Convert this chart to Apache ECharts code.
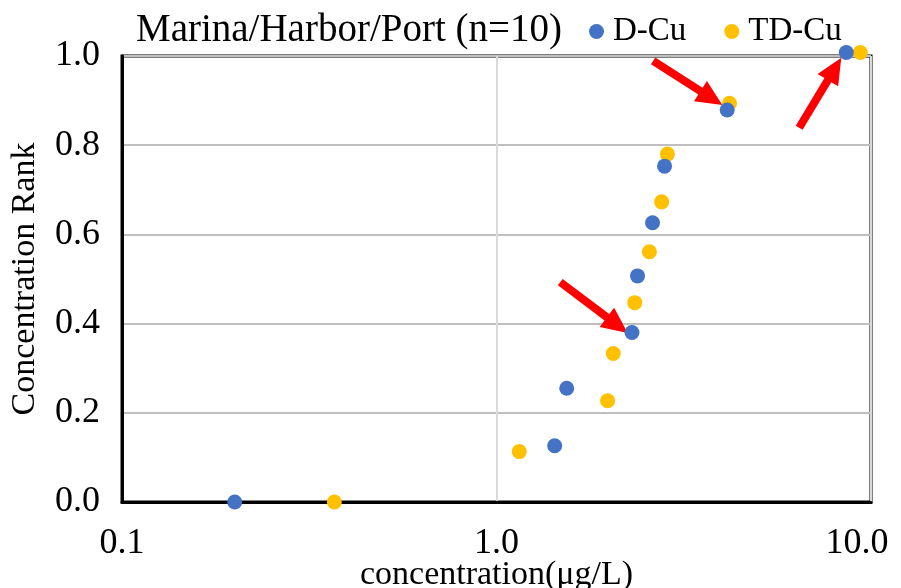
<!DOCTYPE html>
<html>
<head>
<meta charset="utf-8">
<script src="https://cdn.jsdelivr.net/npm/echarts@6/dist/echarts.min.js"></script>
<style>
html,body{margin:0;padding:0;background:#fff;}
#chart{width:901px;height:588px;}
</style>
</head>
<body>
<div id="chart"></div>
<script>
// Data
const titleText = 'Marina/Harbor/Port (n=10)';
const seriesNames = ['D-Cu', 'TD-Cu'];
const dCuConc = [0.20, 1.43, 1.54, 2.30, 2.38, 2.61, 2.81, 4.13, 8.59];
const dCuRank = [0.000, 0.126, 0.255, 0.380, 0.507, 0.626, 0.753, 0.879, 1.008];
const tdCuConc = [0.369, 1.15, 1.98, 2.05, 2.34, 2.56, 2.76, 2.86, 4.19, 9.36];
const tdCuRank = [0.000, 0.113, 0.227, 0.333, 0.447, 0.561, 0.673, 0.780, 0.894, 1.008];
const xTickValues = [0.1, 1, 10];
const xTickLabels = ['0.1', '1.0', '10.0'];
// Arrow annotations in data coordinates: [tailX, tailY, tipX, tipY]
const arrows = [
  [2.62, 0.989, 4.01, 0.890],
  [6.43, 0.839, 8.33, 0.996],
  [1.48, 0.493, 2.24, 0.379]
];

const FONT = '"Liberation Serif", "Times New Roman", serif';
const colors = ['#4472C4', '#FFC000'];

const chart = echarts.init(document.getElementById('chart'), null, {renderer: 'canvas'});

function xLabel(v) {
  for (let i = 0; i < xTickValues.length; i++) {
    if (Math.abs(v - xTickValues[i]) < 1e-9 * xTickValues[i] + 1e-12) {
      return i === xTickValues.length - 1 ? '{last|' + xTickLabels[i] + '}' : xTickLabels[i];
    }
  }
  return '';
}

const option = {
  animation: false,
  backgroundColor: '#ffffff',
  title: {
    text: titleText,
    left: 131,
    top: 6,
    textStyle: {fontFamily: FONT, fontSize: 39, fontWeight: 'normal', color: '#000'}
  },
  legend: {
    data: seriesNames,
    left: 584,
    top: 10,
    icon: 'circle',
    itemWidth: 15,
    itemHeight: 15,
    itemGap: 38,
    textStyle: {fontFamily: FONT, fontSize: 33, color: '#000', padding: [0, 0, 0, 4]}
  },
  grid: {
    left: 122,
    right: 30,
    top: 56,
    bottom: 86,
    show: true,
    borderColor: '#000',
    borderWidth: 3,
    containLabel: false,
    outerBoundsMode: 'none'
  },
  xAxis: {
    type: 'log',
    logBase: 10,
    min: 0.1,
    max: 10,
    name: 'concentration(μg/L)',
    nameLocation: 'middle',
    nameGap: 56,
    nameMoveOverlap: false,
    nameTextStyle: {fontFamily: FONT, fontSize: 34, color: '#000'},
    axisLine: {show: true, lineStyle: {color: '#000', width: 3}},
    axisTick: {show: false},
    minorTick: {show: false},
    splitLine: {show: true, lineStyle: {color: '#d9d9d9', width: 2}},
    axisLabel: {
      fontFamily: FONT, fontSize: 36, color: '#000', margin: 24,
      formatter: xLabel,
      rich: {
        last: {fontFamily: FONT, fontSize: 36, color: '#000', padding: [0, 28, 0, 0]}
      }
    }
  },
  yAxis: {
    type: 'value',
    min: 0,
    max: 1,
    interval: 0.2,
    name: 'Concentration Rank',
    nameLocation: 'middle',
    nameGap: 80,
    nameMoveOverlap: false,
    nameTextStyle: {fontFamily: FONT, fontSize: 34, color: '#000'},
    axisLine: {show: true, lineStyle: {color: '#000', width: 3}},
    axisTick: {show: false},
    splitLine: {show: true, lineStyle: {color: '#bfbfbf', width: 2}},
    axisLabel: {
      fontFamily: FONT, fontSize: 36, color: '#000', margin: 22,
      formatter: function (v) { return v.toFixed(1); }
    }
  },
  series: [
    {
      name: seriesNames[0],
      type: 'scatter',
      symbol: 'circle',
      symbolSize: 15,
      clip: false,
      z: 3,
      itemStyle: {color: colors[0], opacity: 1},
      data: dCuConc.map((x, i) => [x, dCuRank[i]])
    },
    {
      name: seriesNames[1],
      type: 'scatter',
      symbol: 'circle',
      symbolSize: 15,
      clip: false,
      z: 2,
      itemStyle: {color: colors[1], opacity: 1},
      data: tdCuConc.map((x, i) => [x, tdCuRank[i]])
    }
  ]
};
chart.setOption(option);

function arrowPolygon(p0, p1) {
  const dx = p1[0] - p0[0], dy = p1[1] - p0[1];
  const len = Math.sqrt(dx*dx + dy*dy);
  const ux = dx/len, uy = dy/len;
  const px = -uy, py = ux;
  const headLen = 26, headHalf = 12, shaftHalf = 4;
  const bx = p1[0] - ux*headLen, by = p1[1] - uy*headLen;
  return [
    [p0[0] + px*shaftHalf, p0[1] + py*shaftHalf],
    [bx + px*shaftHalf, by + py*shaftHalf],
    [bx + px*headHalf, by + py*headHalf],
    [p1[0], p1[1]],
    [bx - px*headHalf, by - py*headHalf],
    [bx - px*shaftHalf, by - py*shaftHalf],
    [p0[0] - px*shaftHalf, p0[1] - py*shaftHalf]
  ];
}

const graphics = arrows.map(a => {
  const p0 = chart.convertToPixel({gridIndex: 0}, [a[0], a[1]]);
  const p1 = chart.convertToPixel({gridIndex: 0}, [a[2], a[3]]);
  return {
    type: 'polygon',
    z: 1,
    shape: {points: arrowPolygon(p0, p1)},
    style: {fill: '#ff0000'}
  };
});
chart.setOption({graphic: graphics});
</script>
</body>
</html>
